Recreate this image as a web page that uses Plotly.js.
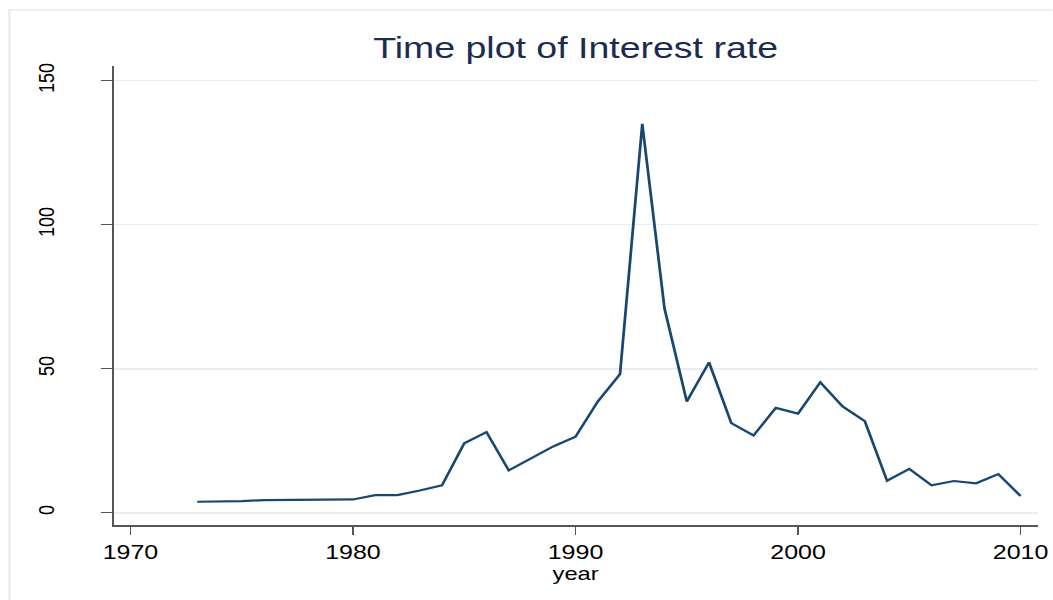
<!DOCTYPE html>
<html>
<head>
<meta charset="utf-8">
<script src="https://cdn.plot.ly/plotly-3.0.1.min.js"></script>
<style>
  html, body { margin: 0; padding: 0; background: #ffffff; overflow: hidden; }
  #wrap { width: 1053px; height: 600px; overflow: hidden; position: relative; }
  #chart { width: 842px; height: 600px; transform: scaleX(1.25); transform-origin: 0 0; }
</style>
</head>
<body>
<div id="wrap"><div id="chart"></div></div>
<script>
// Data
var years = [1973, 1974, 1975, 1976, 1977, 1978, 1979, 1980, 1981, 1982,
             1983, 1984, 1985, 1986, 1987, 1988, 1989, 1990, 1991, 1992,
             1993, 1994, 1995, 1996, 1997, 1998, 1999, 2000, 2001, 2002,
             2003, 2004, 2005, 2006, 2007, 2008, 2009, 2010];
var interestRate = [3.8, 3.9, 4.0, 4.4, 4.4, 4.6, 4.6, 4.6, 6.1, 6.1,
                    7.7, 9.5, 24.1, 28.0, 14.7, 18.7, 23.0, 26.4, 38.6, 48.1,
                    135.0, 70.9, 38.6, 52.2, 31.1, 26.8, 36.4, 34.4, 45.3, 36.9,
                    31.8, 11.1, 15.2, 9.5, 11.0, 10.2, 13.4, 5.8];
var xTickVals = [1970, 1980, 1990, 2000, 2010];
var yTickVals = [0, 50, 100, 150];
var chartTitle = "Time plot of Interest rate";
var xTitle = "year";

var FONT = "Liberation Sans, Arial, Helvetica, sans-serif";

var trace = {
  x: years,
  y: interestRate,
  type: "scatter",
  mode: "lines",
  line: { color: "#1a476f", width: 2.2 },
  hoverinfo: "x+y",
  showlegend: false
};

var layout = {
  width: 842,
  height: 600,
  margin: { l: 91.2, r: 11.8, t: 66, b: 75 },
  paper_bgcolor: "#ffffff",
  plot_bgcolor: "#ffffff",
  font: { family: FONT, color: "#000000" },
  title: {
    text: chartTitle,
    font: { family: FONT, size: 30, color: "#1c2c4e" },
    x: 0.5, xref: "paper", xanchor: "center",
    y: 0.921, yref: "container", yanchor: "middle"
  },
  xaxis: {
    range: [1969.25, 2010.76],
    tickmode: "array",
    tickvals: xTickVals,
    ticktext: xTickVals.map(String),
    ticks: "outside",
    ticklen: 8,
    tickwidth: 1.4,
    tickcolor: "#555555",
    tickfont: { family: FONT, size: 20, color: "#000000" },
    showline: true,
    linecolor: "#555555",
    linewidth: 1.6,
    showgrid: false,
    zeroline: false,
    title: { text: xTitle, font: { family: FONT, size: 19, color: "#000000" }, standoff: 0 }
  },
  yaxis: {
    range: [-4.27, 155.1],
    tickmode: "array",
    tickvals: yTickVals,
    ticktext: yTickVals.map(String),
    tickangle: -90,
    ticks: "outside",
    ticklen: 9,
    tickwidth: 1.4,
    tickcolor: "#555555",
    tickfont: { family: FONT, size: 18, color: "#000000" },
    ticklabelstandoff: 30,
    showline: true,
    linecolor: "#555555",
    linewidth: 1.6,
    showgrid: true,
    gridcolor: "#e8eff2",
    gridwidth: 1.6,
    zeroline: false
  },
  shapes: [{
    type: "rect",
    xref: "paper", yref: "paper",
    x0: -0.1131, x1: 1.2, y0: -0.3, y1: 1.122,
    line: { color: "#e3eaee", width: 1.6 },
    fillcolor: "rgba(0,0,0,0)",
    layer: "below"
  }]
};

Plotly.newPlot("chart", [trace], layout, { displayModeBar: false, staticPlot: true });
</script>
</body>
</html>
